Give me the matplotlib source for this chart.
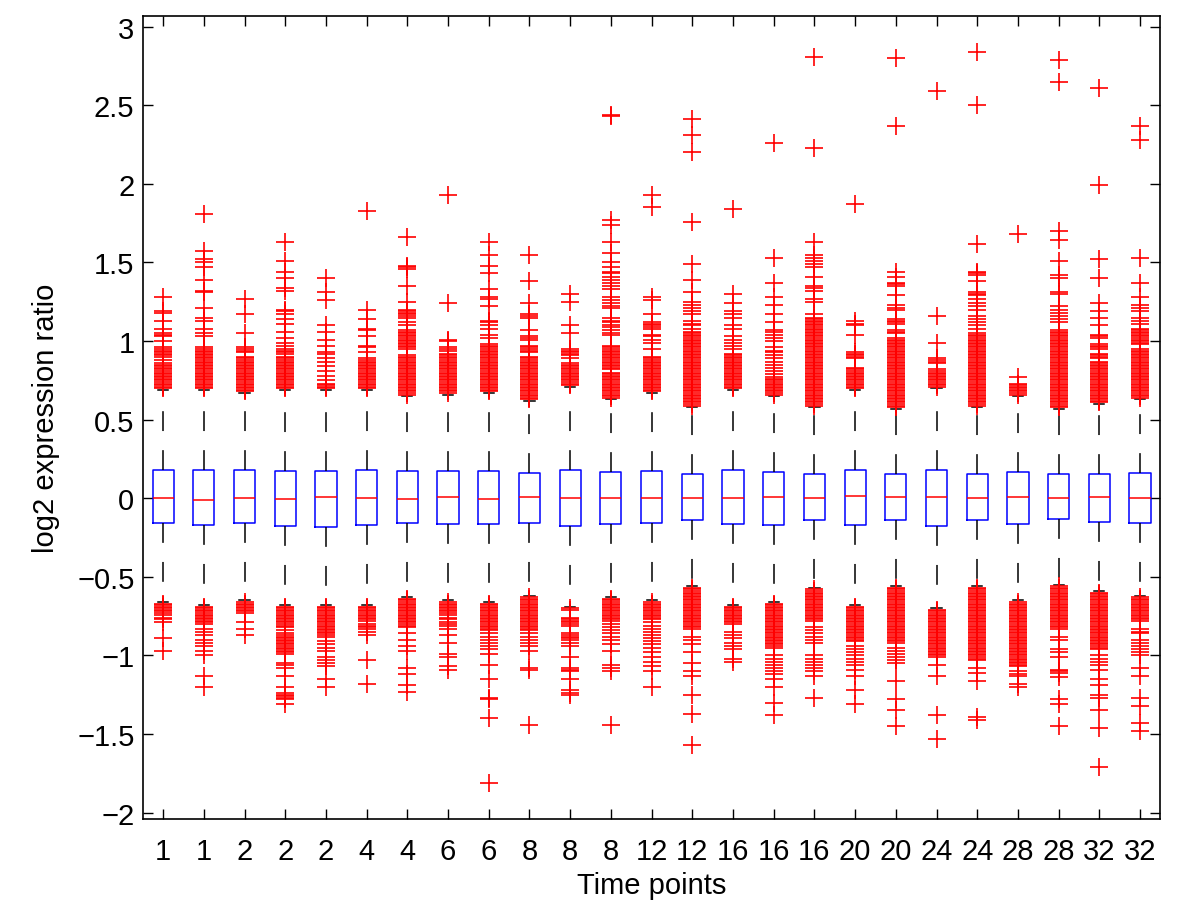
import matplotlib
matplotlib.use("Agg")
import matplotlib.pyplot as plt

plt.rcParams['font.family'] = ['Liberation Sans', 'DejaVu Sans']

# ---------------- datos ---------------- #
time_labels = ['1', '1', '2', '2', '2', '4', '4', '6', '6', '8', '8', '8', '12',
               '12', '16', '16', '16', '20', '20', '24', '24', '28', '28', '32', '32']

q1 = [-0.16, -0.17, -0.16, -0.175, -0.18, -0.17, -0.155, -0.165, -0.165, -0.155, -0.175, -0.162, -0.16,
      -0.138, -0.164, -0.17, -0.138, -0.172, -0.138, -0.175, -0.138, -0.166, -0.134, -0.15, -0.155]
med = [0.0, -0.01, 0.0, -0.005, 0.01, 0.0, -0.005, 0.005, -0.005, 0.006, 0.0, 0.0, 0.004,
       0.0, 0.0, 0.005, 0.0, 0.017, 0.01, 0.01, 0.003, 0.01, 0.003, 0.01, 0.0]
q3 = [0.18, 0.18, 0.18, 0.175, 0.175, 0.18, 0.175, 0.175, 0.175, 0.163, 0.18, 0.17, 0.176,
      0.157, 0.182, 0.168, 0.157, 0.178, 0.155, 0.182, 0.155, 0.168, 0.157, 0.157, 0.163]
whis_lo = [-0.66, -0.68, -0.65, -0.68, -0.68, -0.68, -0.63, -0.65, -0.66, -0.62, -0.69, -0.63, -0.65,
           -0.56, -0.68, -0.66, -0.57, -0.68, -0.56, -0.70, -0.56, -0.65, -0.55, -0.59, -0.62]
whis_hi = [0.69, 0.69, 0.67, 0.69, 0.69, 0.69, 0.65, 0.66, 0.67, 0.62, 0.71, 0.63, 0.67,
           0.58, 0.69, 0.65, 0.58, 0.69, 0.57, 0.70, 0.58, 0.65, 0.57, 0.60, 0.63]

upper_out = [
    [1.28, 1.19, 1.18, 1.13, 1.08, 1.05, 1.04, 1.03, 1.00, 0.96, 0.95, 0.94, 0.93, 0.92, 0.91, 0.90, 0.88, 0.86,
     0.85, 0.84, 0.83, 0.82, 0.81, 0.80, 0.79, 0.78, 0.77, 0.76, 0.75, 0.74, 0.73, 0.72, 0.71, 0.70],
    [1.81, 1.57, 1.52, 1.50, 1.47, 1.39, 1.32, 1.31, 1.21, 1.15, 1.13, 1.08, 1.05, 1.03, 0.96, 0.95, 0.94, 0.93,
     0.92, 0.91, 0.90, 0.89, 0.88, 0.87, 0.86, 0.85, 0.84, 0.83, 0.82, 0.81, 0.80, 0.79, 0.78, 0.77, 0.76, 0.75,
     0.74, 0.73, 0.72, 0.71, 0.70],
    [1.27, 1.17, 1.05, 0.96, 0.95, 0.94, 0.93, 0.90, 0.89, 0.88, 0.87, 0.86, 0.85, 0.84, 0.83, 0.82, 0.81, 0.80,
     0.79, 0.78, 0.77, 0.76, 0.75, 0.74, 0.73, 0.72, 0.71, 0.70, 0.69, 0.68],
    [1.63, 1.51, 1.44, 1.40, 1.34, 1.32, 1.20, 1.19, 1.17, 1.14, 1.11, 1.06, 1.02, 0.99, 0.97, 0.95, 0.94, 0.93,
     0.92, 0.90, 0.89, 0.88, 0.87, 0.86, 0.85, 0.84, 0.83, 0.82, 0.81, 0.80, 0.79, 0.78, 0.77, 0.76, 0.75, 0.74,
     0.73, 0.72, 0.71, 0.70],
    [1.40, 1.31, 1.26, 1.10, 1.06, 1.01, 0.97, 0.93, 0.92, 0.89, 0.87, 0.84, 0.81, 0.78, 0.75, 0.73, 0.72, 0.71,
     0.70],
    [1.83, 1.20, 1.14, 1.08, 1.07, 1.03, 0.97, 0.96, 0.93, 0.89, 0.88, 0.87, 0.86, 0.85, 0.84, 0.83, 0.82, 0.81,
     0.80, 0.79, 0.78, 0.77, 0.76, 0.75, 0.74, 0.73, 0.72, 0.71, 0.70],
    [1.66, 1.48, 1.47, 1.46, 1.35, 1.25, 1.20, 1.19, 1.18, 1.17, 1.16, 1.15, 1.12, 1.10, 1.07, 1.06, 1.05, 1.04,
     1.03, 1.02, 1.01, 1.00, 0.99, 0.98, 0.97, 0.96, 0.95, 0.91, 0.90, 0.89, 0.88, 0.87, 0.86, 0.85, 0.84, 0.83,
     0.82, 0.81, 0.80, 0.79, 0.78, 0.77, 0.76, 0.75, 0.74, 0.73, 0.72, 0.71, 0.70, 0.69, 0.68, 0.67, 0.66],
    [1.93, 1.24, 1.01, 1.00, 0.96, 0.95, 0.94, 0.92, 0.91, 0.90, 0.89, 0.88, 0.87, 0.86, 0.85, 0.84, 0.83, 0.82,
     0.81, 0.80, 0.79, 0.78, 0.77, 0.76, 0.75, 0.74, 0.73, 0.72, 0.71, 0.70, 0.69, 0.68, 0.67],
    [1.63, 1.55, 1.48, 1.43, 1.33, 1.28, 1.27, 1.22, 1.13, 1.12, 1.10, 1.08, 1.04, 1.02, 0.98, 0.97, 0.96, 0.95,
     0.94, 0.93, 0.92, 0.91, 0.90, 0.89, 0.88, 0.87, 0.86, 0.85, 0.84, 0.83, 0.82, 0.81, 0.80, 0.79, 0.78, 0.77,
     0.76, 0.75, 0.74, 0.73, 0.72, 0.71, 0.70, 0.69, 0.68],
    [1.55, 1.38, 1.24, 1.17, 1.16, 1.15, 1.07, 1.03, 1.02, 1.01, 0.97, 0.96, 0.95, 0.94, 0.93, 0.90, 0.89, 0.88,
     0.87, 0.86, 0.85, 0.84, 0.83, 0.82, 0.81, 0.80, 0.79, 0.78, 0.77, 0.76, 0.75, 0.74, 0.73, 0.72, 0.71, 0.70,
     0.69, 0.68, 0.67, 0.66, 0.65, 0.64, 0.63],
    [1.30, 1.25, 1.10, 1.05, 0.95, 0.94, 0.93, 0.92, 0.91, 0.89, 0.86, 0.85, 0.84, 0.83, 0.82, 0.81, 0.80, 0.79,
     0.78, 0.77, 0.76, 0.75, 0.74, 0.73, 0.72],
    [2.44, 2.43, 1.77, 1.74, 1.63, 1.56, 1.50, 1.47, 1.44, 1.43, 1.41, 1.39, 1.37, 1.35, 1.33, 1.28, 1.26, 1.24,
     1.22, 1.21, 1.15, 1.13, 1.12, 1.10, 1.09, 1.07, 1.05, 1.04, 0.97, 0.96, 0.95, 0.94, 0.93, 0.92, 0.91, 0.90,
     0.89, 0.88, 0.87, 0.86, 0.85, 0.84, 0.83, 0.82, 0.80, 0.79, 0.78, 0.77, 0.76, 0.75, 0.74, 0.73, 0.72, 0.71,
     0.70, 0.69, 0.68, 0.67, 0.66, 0.65, 0.64],
    [1.93, 1.85, 1.28, 1.26, 1.17, 1.12, 1.11, 1.10, 1.09, 1.08, 1.04, 1.03, 1.01, 0.99, 0.95, 0.90, 0.89, 0.88,
     0.87, 0.86, 0.85, 0.84, 0.83, 0.82, 0.81, 0.80, 0.79, 0.78, 0.77, 0.76, 0.75, 0.74, 0.73, 0.72, 0.71, 0.70,
     0.69, 0.68],
    [2.41, 2.31, 2.20, 1.76, 1.49, 1.39, 1.31, 1.25, 1.23, 1.21, 1.19, 1.17, 1.13, 1.11, 1.10, 1.08, 1.06, 1.05,
     1.04, 1.03, 1.02, 1.01, 1.00, 0.99, 0.98, 0.97, 0.96, 0.95, 0.94, 0.93, 0.92, 0.91, 0.90, 0.89, 0.88, 0.87,
     0.86, 0.85, 0.84, 0.83, 0.82, 0.81, 0.80, 0.79, 0.78, 0.77, 0.76, 0.75, 0.74, 0.73, 0.72, 0.71, 0.70, 0.69,
     0.68, 0.67, 0.66, 0.65, 0.64, 0.63, 0.62, 0.61, 0.60, 0.59],
    [1.84, 1.30, 1.24, 1.19, 1.17, 1.15, 1.10, 1.08, 1.03, 1.01, 0.99, 0.97, 0.95, 0.92, 0.91, 0.90, 0.89, 0.88,
     0.87, 0.86, 0.85, 0.84, 0.83, 0.82, 0.81, 0.80, 0.79, 0.78, 0.77, 0.76, 0.75, 0.74, 0.73, 0.72, 0.71, 0.70],
    [2.26, 1.53, 1.37, 1.28, 1.23, 1.17, 1.12, 1.07, 1.06, 1.04, 1.02, 1.00, 0.96, 0.94, 0.93, 0.91, 0.89, 0.87,
     0.85, 0.83, 0.81, 0.79, 0.77, 0.76, 0.75, 0.74, 0.73, 0.72, 0.71, 0.70, 0.69, 0.68, 0.67, 0.66],
    [2.81, 2.23, 1.63, 1.55, 1.53, 1.51, 1.49, 1.47, 1.41, 1.35, 1.34, 1.32, 1.27, 1.25, 1.17, 1.15, 1.14, 1.13,
     1.12, 1.11, 1.10, 1.09, 1.08, 1.07, 1.06, 1.05, 1.04, 1.03, 1.02, 1.01, 1.00, 0.99, 0.98, 0.97, 0.96, 0.95,
     0.94, 0.93, 0.92, 0.91, 0.90, 0.89, 0.88, 0.87, 0.86, 0.85, 0.84, 0.83, 0.82, 0.81, 0.80, 0.79, 0.78, 0.77,
     0.76, 0.75, 0.74, 0.73, 0.72, 0.71, 0.70, 0.69, 0.68, 0.67, 0.66, 0.65, 0.64, 0.63, 0.62, 0.61, 0.60, 0.59],
    [1.87, 1.13, 1.11, 1.10, 1.04, 0.93, 0.92, 0.91, 0.90, 0.89, 0.83, 0.82, 0.81, 0.80, 0.79, 0.78, 0.77, 0.76,
     0.75, 0.74, 0.73, 0.72, 0.71, 0.70],
    [2.80, 2.37, 1.44, 1.41, 1.37, 1.36, 1.35, 1.29, 1.23, 1.21, 1.20, 1.14, 1.13, 1.12, 1.11, 1.07, 1.06, 1.05,
     1.02, 1.01, 1.00, 0.99, 0.98, 0.97, 0.96, 0.95, 0.94, 0.93, 0.92, 0.91, 0.90, 0.89, 0.88, 0.87, 0.86, 0.85,
     0.84, 0.83, 0.82, 0.81, 0.80, 0.79, 0.78, 0.77, 0.76, 0.75, 0.74, 0.73, 0.72, 0.71, 0.70, 0.69, 0.68, 0.67,
     0.66, 0.65, 0.64, 0.63, 0.62, 0.61, 0.60, 0.59, 0.58],
    [2.59, 1.16, 0.99, 0.89, 0.88, 0.87, 0.86, 0.82, 0.81, 0.80, 0.79, 0.78, 0.77, 0.76, 0.75, 0.74, 0.73, 0.72,
     0.71],
    [2.84, 2.50, 1.62, 1.44, 1.43, 1.42, 1.38, 1.31, 1.30, 1.29, 1.27, 1.24, 1.22, 1.20, 1.16, 1.14, 1.12, 1.10,
     1.08, 1.05, 1.04, 1.03, 1.02, 1.01, 1.00, 0.99, 0.98, 0.97, 0.96, 0.95, 0.94, 0.93, 0.92, 0.91, 0.90, 0.89,
     0.88, 0.87, 0.86, 0.85, 0.84, 0.83, 0.82, 0.81, 0.80, 0.79, 0.78, 0.77, 0.76, 0.75, 0.74, 0.73, 0.72, 0.71,
     0.70, 0.69, 0.68, 0.67, 0.66, 0.65, 0.64, 0.63, 0.62, 0.61, 0.60, 0.59],
    [1.68, 0.77, 0.73, 0.72, 0.71, 0.70, 0.69, 0.68, 0.67, 0.66],
    [2.79, 2.65, 1.70, 1.64, 1.51, 1.42, 1.40, 1.31, 1.30, 1.22, 1.20, 1.18, 1.16, 1.14, 1.12, 1.07, 1.06, 1.05,
     1.04, 1.03, 1.02, 1.01, 1.00, 0.99, 0.98, 0.97, 0.96, 0.95, 0.94, 0.93, 0.92, 0.91, 0.90, 0.89, 0.88, 0.87,
     0.86, 0.85, 0.84, 0.83, 0.82, 0.81, 0.80, 0.79, 0.78, 0.77, 0.76, 0.75, 0.74, 0.73, 0.72, 0.71, 0.70, 0.69,
     0.68, 0.67, 0.66, 0.65, 0.64, 0.63, 0.62, 0.61, 0.60, 0.59, 0.58],
    [2.61, 1.99, 1.52, 1.40, 1.24, 1.19, 1.15, 1.10, 1.04, 1.03, 1.02, 0.98, 0.97, 0.96, 0.95, 0.92, 0.91, 0.90,
     0.89, 0.87, 0.86, 0.85, 0.84, 0.83, 0.82, 0.81, 0.80, 0.79, 0.78, 0.77, 0.76, 0.75, 0.74, 0.73, 0.72, 0.71,
     0.70, 0.69, 0.68, 0.67, 0.66, 0.65, 0.64, 0.63, 0.62, 0.61],
    [2.37, 2.28, 1.53, 1.37, 1.28, 1.23, 1.21, 1.19, 1.15, 1.13, 1.11, 1.08, 1.07, 1.06, 1.05, 1.04, 1.03, 1.02,
     1.01, 1.00, 0.99, 0.98, 0.95, 0.94, 0.93, 0.92, 0.91, 0.90, 0.89, 0.88, 0.87, 0.86, 0.85, 0.84, 0.83, 0.82,
     0.81, 0.80, 0.79, 0.78, 0.77, 0.76, 0.75, 0.74, 0.73, 0.72, 0.71, 0.70, 0.69, 0.68, 0.67, 0.66, 0.65, 0.64],
]

lower_out = [
    [-0.67, -0.68, -0.69, -0.70, -0.71, -0.72, -0.73, -0.74, -0.76, -0.77, -0.79, -0.89, -0.97],
    [-0.69, -0.70, -0.71, -0.72, -0.73, -0.74, -0.75, -0.76, -0.77, -0.78, -0.79, -0.80, -0.83, -0.85, -0.87,
     -0.90, -0.92, -0.94, -0.97, -1.00, -1.13, -1.20],
    [-0.66, -0.67, -0.68, -0.69, -0.70, -0.71, -0.72, -0.73, -0.79, -0.83, -0.87],
    [-0.69, -0.70, -0.71, -0.72, -0.73, -0.74, -0.75, -0.76, -0.77, -0.78, -0.79, -0.80, -0.81, -0.82, -0.84,
     -0.86, -0.87, -0.88, -0.89, -0.90, -0.91, -0.92, -0.93, -0.94, -0.95, -0.96, -0.97, -0.98, -0.99, -1.05,
     -1.06, -1.08, -1.13, -1.20, -1.24, -1.25, -1.26, -1.27, -1.28, -1.31],
    [-0.69, -0.70, -0.71, -0.72, -0.73, -0.74, -0.75, -0.76, -0.77, -0.78, -0.79, -0.80, -0.81, -0.82, -0.83,
     -0.84, -0.85, -0.86, -0.87, -0.88, -0.91, -0.93, -0.95, -0.97, -1.01, -1.03, -1.05, -1.07, -1.15, -1.20],
    [-0.69, -0.70, -0.71, -0.72, -0.73, -0.74, -0.75, -0.76, -0.77, -0.78, -0.80, -0.81, -0.82, -0.83, -0.85,
     -0.87, -1.03, -1.18],
    [-0.64, -0.65, -0.66, -0.67, -0.68, -0.69, -0.70, -0.71, -0.72, -0.73, -0.74, -0.75, -0.76, -0.77, -0.78,
     -0.79, -0.80, -0.81, -0.82, -0.86, -0.90, -0.94, -0.97, -1.08, -1.12, -1.19, -1.23],
    [-0.66, -0.67, -0.68, -0.69, -0.70, -0.71, -0.72, -0.73, -0.74, -0.76, -0.77, -0.79, -0.80, -0.81, -0.83,
     -0.87, -0.92, -0.99, -1.01, -1.07, -1.09],
    [-0.67, -0.68, -0.69, -0.70, -0.71, -0.72, -0.73, -0.74, -0.75, -0.76, -0.77, -0.78, -0.79, -0.80, -0.81,
     -0.82, -0.83, -0.84, -0.86, -0.88, -0.90, -0.92, -0.94, -0.96, -0.99, -1.06, -1.15, -1.27, -1.28, -1.40,
     -1.81],
    [-0.63, -0.64, -0.65, -0.66, -0.67, -0.68, -0.69, -0.70, -0.71, -0.72, -0.73, -0.74, -0.75, -0.76, -0.77,
     -0.78, -0.79, -0.80, -0.81, -0.82, -0.83, -0.84, -0.86, -0.88, -0.90, -0.92, -0.94, -0.97, -1.08, -1.09,
     -1.44],
    [-0.70, -0.71, -0.76, -0.77, -0.78, -0.79, -0.80, -0.81, -0.86, -0.87, -0.88, -0.89, -0.90, -0.92, -0.94,
     -1.01, -1.08, -1.09, -1.10, -1.15, -1.22, -1.24, -1.25],
    [-0.64, -0.65, -0.66, -0.67, -0.68, -0.69, -0.70, -0.71, -0.72, -0.73, -0.74, -0.75, -0.76, -0.77, -0.78,
     -0.80, -0.82, -0.84, -0.86, -0.88, -0.90, -0.93, -0.97, -1.06, -1.08, -1.10, -1.44],
    [-0.66, -0.67, -0.68, -0.69, -0.70, -0.71, -0.72, -0.73, -0.74, -0.75, -0.76, -0.77, -0.79, -0.81, -0.83,
     -0.85, -0.87, -0.89, -0.91, -0.93, -0.95, -0.98, -1.01, -1.04, -1.07, -1.10, -1.20],
    [-0.57, -0.58, -0.59, -0.60, -0.61, -0.62, -0.63, -0.64, -0.65, -0.66, -0.67, -0.68, -0.69, -0.70, -0.71,
     -0.72, -0.73, -0.74, -0.75, -0.76, -0.77, -0.78, -0.79, -0.80, -0.81, -0.82, -0.83, -0.88, -0.90, -0.93,
     -0.98, -1.05, -1.10, -1.13, -1.25, -1.37, -1.57],
    [-0.69, -0.70, -0.71, -0.72, -0.73, -0.74, -0.75, -0.76, -0.77, -0.78, -0.79, -0.80, -0.85, -0.87, -0.89,
     -0.92, -0.94, -0.96, -1.02, -1.04],
    [-0.67, -0.68, -0.69, -0.70, -0.71, -0.72, -0.73, -0.74, -0.75, -0.76, -0.77, -0.78, -0.79, -0.80, -0.81,
     -0.82, -0.83, -0.84, -0.85, -0.86, -0.87, -0.88, -0.89, -0.90, -0.91, -0.92, -0.93, -0.94, -0.95, -1.00,
     -1.02, -1.04, -1.06, -1.08, -1.10, -1.12, -1.15, -1.20, -1.30, -1.38],
    [-0.58, -0.59, -0.60, -0.61, -0.62, -0.63, -0.64, -0.65, -0.66, -0.67, -0.68, -0.69, -0.70, -0.71, -0.72,
     -0.73, -0.74, -0.75, -0.76, -0.77, -0.78, -0.82, -0.84, -0.86, -0.88, -0.90, -0.92, -1.00, -1.02, -1.04,
     -1.06, -1.08, -1.10, -1.13, -1.27],
    [-0.69, -0.70, -0.71, -0.72, -0.73, -0.74, -0.75, -0.76, -0.77, -0.78, -0.79, -0.80, -0.81, -0.82, -0.83,
     -0.84, -0.85, -0.86, -0.87, -0.88, -0.89, -0.90, -0.91, -0.94, -0.96, -0.98, -1.00, -1.02, -1.04, -1.06,
     -1.09, -1.13, -1.22, -1.31],
    [-0.57, -0.58, -0.59, -0.60, -0.61, -0.62, -0.63, -0.64, -0.65, -0.66, -0.67, -0.68, -0.69, -0.70, -0.71,
     -0.72, -0.73, -0.74, -0.75, -0.76, -0.77, -0.78, -0.79, -0.80, -0.81, -0.82, -0.83, -0.84, -0.85, -0.86,
     -0.87, -0.88, -0.89, -0.90, -0.91, -0.92, -0.95, -0.97, -0.99, -1.01, -1.03, -1.05, -1.16, -1.28, -1.35,
     -1.45],
    [-0.71, -0.72, -0.73, -0.74, -0.75, -0.76, -0.77, -0.78, -0.79, -0.80, -0.81, -0.82, -0.83, -0.84, -0.85,
     -0.86, -0.87, -0.88, -0.89, -0.90, -0.91, -0.92, -0.93, -0.94, -0.95, -0.96, -0.97, -0.98, -0.99, -1.00,
     -1.01, -1.06, -1.13, -1.38, -1.53],
    [-0.57, -0.58, -0.59, -0.60, -0.61, -0.62, -0.63, -0.64, -0.65, -0.66, -0.67, -0.68, -0.69, -0.70, -0.71,
     -0.72, -0.73, -0.74, -0.75, -0.76, -0.77, -0.78, -0.79, -0.80, -0.81, -0.82, -0.83, -0.84, -0.85, -0.86,
     -0.87, -0.88, -0.89, -0.90, -0.91, -0.92, -0.93, -0.94, -0.95, -0.96, -0.97, -0.98, -0.99, -1.00, -1.01,
     -1.02, -1.03, -1.08, -1.11, -1.16, -1.39, -1.41],
    [-0.66, -0.67, -0.68, -0.69, -0.70, -0.71, -0.72, -0.73, -0.74, -0.75, -0.76, -0.77, -0.78, -0.79, -0.80,
     -0.81, -0.82, -0.83, -0.84, -0.85, -0.86, -0.87, -0.88, -0.89, -0.90, -0.91, -0.92, -0.93, -0.94, -0.95,
     -0.96, -0.97, -0.98, -0.99, -1.00, -1.01, -1.02, -1.03, -1.04, -1.05, -1.06, -1.07, -1.10, -1.12, -1.13,
     -1.18, -1.20],
    [-0.56, -0.57, -0.58, -0.59, -0.60, -0.61, -0.62, -0.63, -0.64, -0.65, -0.66, -0.67, -0.68, -0.69, -0.70,
     -0.71, -0.72, -0.73, -0.74, -0.75, -0.76, -0.77, -0.78, -0.79, -0.80, -0.81, -0.82, -0.83, -0.88, -0.90,
     -0.96, -0.98, -1.01, -1.09, -1.10, -1.11, -1.14, -1.28, -1.31, -1.45],
    [-0.60, -0.61, -0.62, -0.63, -0.64, -0.65, -0.66, -0.67, -0.68, -0.69, -0.70, -0.71, -0.72, -0.73, -0.74,
     -0.75, -0.76, -0.77, -0.78, -0.79, -0.80, -0.81, -0.82, -0.83, -0.84, -0.85, -0.86, -0.87, -0.88, -0.89,
     -0.90, -0.91, -0.92, -0.93, -0.94, -0.95, -0.96, -1.00, -1.02, -1.04, -1.06, -1.09, -1.15, -1.19, -1.25,
     -1.27, -1.35, -1.46, -1.71],
    [-0.63, -0.64, -0.65, -0.66, -0.67, -0.68, -0.69, -0.70, -0.71, -0.72, -0.73, -0.74, -0.75, -0.76, -0.77,
     -0.78, -0.83, -0.85, -0.86, -0.90, -0.92, -0.94, -0.96, -0.98, -1.00, -1.08, -1.13, -1.27, -1.32, -1.43,
     -1.48],
]

y_ticks = [-2, -1.5, -1, -0.5, 0, 0.5, 1, 1.5, 2, 2.5, 3]
y_tick_labels = ['\u22122', '\u22121.5', '\u22121', '\u22120.5', '0', '0.5', '1', '1.5', '2', '2.5', '3']

# ---------------- estadisticos para bxp ---------------- #
stats = []
for i in range(len(time_labels)):
    stats.append(dict(med=med[i], q1=q1[i], q3=q3[i],
                      whislo=whis_lo[i], whishi=whis_hi[i],
                      fliers=upper_out[i] + lower_out[i]))

positions = list(range(1, len(time_labels) + 1))

fig = plt.figure(figsize=(12, 9.03), dpi=100)
ax = fig.add_axes([0.119, 0.092, 0.848, 0.8895])

ax.bxp(stats, positions=positions, widths=0.52, capwidths=0.25,
       boxprops=dict(color='blue', linewidth=1.1),
       medianprops=dict(color='red', linewidth=1.1),
       whiskerprops=dict(color='black', linewidth=1.1, linestyle=(0, (13, 12.5))),
       capprops=dict(color='black', linewidth=1.1),
       flierprops=dict(marker='+', markeredgecolor='red', markersize=13,
                       markeredgewidth=1.2, linestyle='none'))

ax.set_xlim(0.5, 25.5)
ax.set_ylim(-2.04, 3.07)
ax.set_xticks(positions)
ax.set_xticklabels(time_labels)
ax.set_yticks(y_ticks)
ax.set_yticklabels(y_tick_labels)
ax.tick_params(direction='in', length=7, width=1, top=True, right=True, labelsize=21)
ax.tick_params(axis='x', pad=13)
ax.tick_params(axis='y', pad=6)
for sp in ax.spines.values():
    sp.set_linewidth(1.2)

ax.set_xlabel('Time points', fontsize=21, labelpad=4)
ax.set_ylabel('log2 expression ratio', fontsize=21, labelpad=12)

fig.savefig('out.png', dpi=100)
